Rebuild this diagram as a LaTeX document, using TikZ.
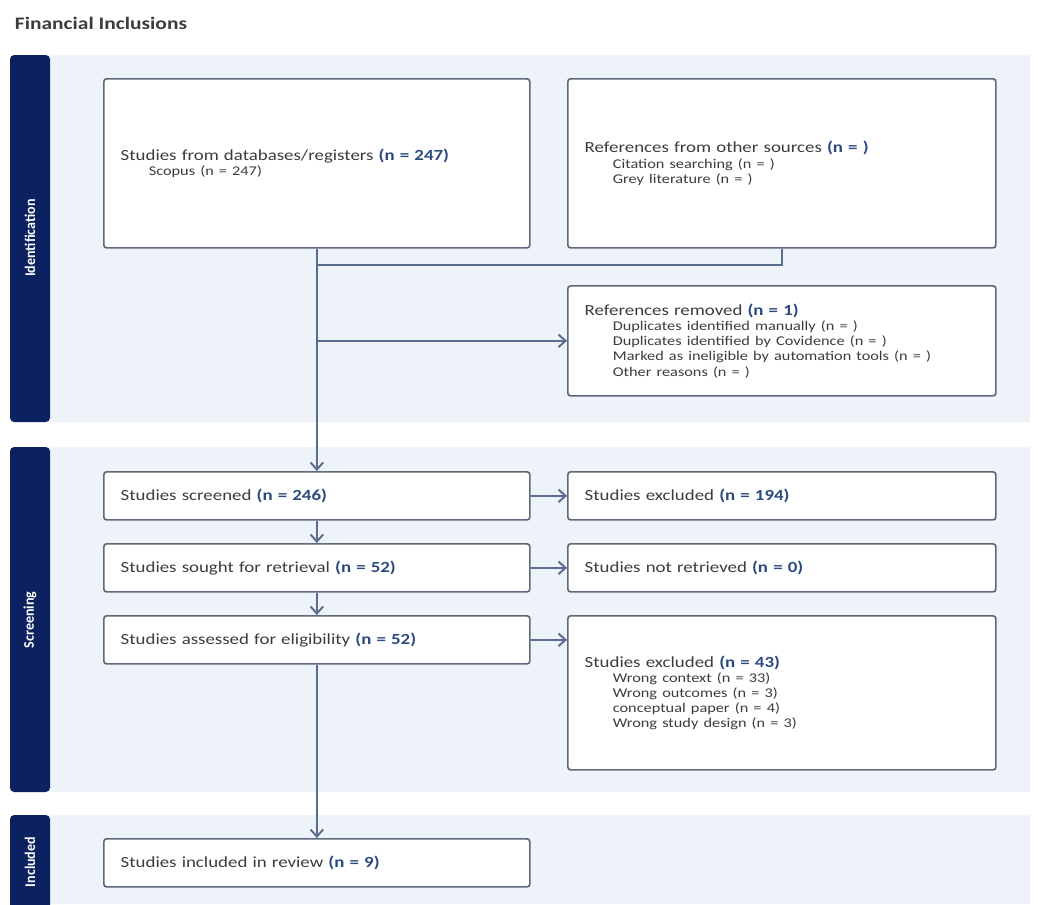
\documentclass[tikz,border=0pt]{standalone}
\usepackage{fontspec}
\setmainfont{Carlito}[FakeStretch=1.22]
\newfontfamily\bandfont{Carlito}[FakeStretch=0.95]
\usetikzlibrary{arrows.meta}
\definecolor{bandnavy}{HTML}{0C2160}
\definecolor{bandbg}{HTML}{EEF3FA}
\definecolor{boxline}{HTML}{5E6A7C}
\definecolor{flowline}{HTML}{5A6D8E}
\definecolor{numblue}{HTML}{2A4A80}
\definecolor{textgray}{HTML}{3C3C3C}
\newcommand{\px}{0.025cm}
\newcommand{\nval}[1]{\textbf{\color{numblue}(n = #1)}}
\newcommand{\subline}[1]{{\fontsize{9.5}{10.8}\selectfont\hspace*{20pt}#1}}
\begin{document}
\begin{tikzpicture}[x=0.025cm,y=-0.025cm]
    \tikzstyle{band} = [fill=bandbg]
    \tikzstyle{bandbar} = [fill=bandnavy,rounded corners=3pt]
    \tikzstyle{bandlabel} = [text=white,rotate=90,font=\bandfont\bfseries\fontsize{10.5}{11}\selectfont]
    \tikzstyle{flowbox} = [draw=boxline,line width=1.2pt,rounded corners=2pt,fill=white,anchor=north west,
        align=left,inner xsep=12pt,inner ysep=0pt,text=textgray,font=\fontsize{11}{10.8}\selectfont]
    \tikzstyle{flow} = [draw=flowline,line width=1.4pt]
    \tikzstyle{flowarrow} = [flow,-{Straight Barb[length=5pt,width=9pt,line width=1.4pt]}]

    \useasboundingbox (0,0) rectangle (1038,904);

    % title
    \node[anchor=west,text=textgray,font=\bfseries\fontsize{12.5}{13}\selectfont] (title) at (10,23) {Financial Inclusions};

    % bands
    \fill[band] (50,55) rectangle (1030,422);
    \fill[band] (50,447) rectangle (1030,792);
    \fill[band] (50,815) rectangle (1030,904);
    \fill[bandbar] (10,55) rectangle (50,422);
    \fill[bandbar] (10,447) rectangle (50,792);
    \fill[bandbar] (10,815) rectangle (50,910);
    \node[bandlabel] (identlabel) at (30,238) {Identification};
    \node[bandlabel] (screenlabel) at (30,620) {Screening};
    \node[bandlabel] (includelabel) at (30,862) {Included};

    % identification
    \node[flowbox,minimum width=426*\px,minimum height=169*\px,text width=426*\px-24pt] (dbs) at (103,78)
        {Studies from databases/registers \nval{247}\\ \subline{Scopus (n = 247)}};
    \node[flowbox,minimum width=428*\px,minimum height=169*\px,text width=428*\px-24pt] (others) at (567,78)
        {References from other sources \nval{}\\ \subline{Citation searching (n = )}\\ \subline{Grey literature (n = )}};
    \node[flowbox,minimum width=428*\px,minimum height=110*\px,text width=428*\px-24pt] (removed) at (567,285)
        {References removed \nval{1}\\ \subline{Duplicates identified manually (n = )}\\
         \subline{Duplicates identified by Covidence (n = )}\\
         \subline{Marked as ineligible by automation tools (n = )}\\ \subline{Other reasons (n = )}};

    % screening
    \node[flowbox,minimum width=426*\px,minimum height=48*\px,text width=426*\px-24pt] (screened) at (103,471)
        {Studies screened \nval{246}};
    \node[flowbox,minimum width=428*\px,minimum height=48*\px,text width=428*\px-24pt] (excluded) at (567,471)
        {Studies excluded \nval{194}};
    \node[flowbox,minimum width=426*\px,minimum height=48*\px,text width=426*\px-24pt] (sought) at (103,543)
        {Studies sought for retrieval \nval{52}};
    \node[flowbox,minimum width=428*\px,minimum height=48*\px,text width=428*\px-24pt] (notretrieved) at (567,543)
        {Studies not retrieved \nval{0}};
    \node[flowbox,minimum width=426*\px,minimum height=48*\px,text width=426*\px-24pt] (assessed) at (103,615)
        {Studies assessed for eligibility \nval{52}};
    \node[flowbox,minimum width=428*\px,minimum height=154*\px,text width=428*\px-24pt] (excludedfull) at (567,615)
        {Studies excluded \nval{43}\\ \subline{Wrong context (n = 33)}\\ \subline{Wrong outcomes (n = 3)}\\
         \subline{conceptual paper (n = 4)}\\ \subline{Wrong study design (n = 3)}};

    % included
    \node[flowbox,minimum width=426*\px,minimum height=48*\px,text width=426*\px-24pt] (included) at (103,838)
        {Studies included in review \nval{9}};

    % connectors
    \coordinate (merge) at (dbs.south |- 0,265);
    \draw[flow] (others.south) |- (merge);
    \draw[flowarrow] (dbs.south) -- (screened.north);
    \draw[flowarrow] (dbs.south |- removed.west) -- (removed.west);
    \draw[flowarrow] (screened.east) -- (excluded.west);
    \draw[flowarrow] (sought.east) -- (notretrieved.west);
    \draw[flowarrow] (assessed.east) -- (assessed.east -| excludedfull.west);
    \draw[flowarrow] (screened.south) -- (sought.north);
    \draw[flowarrow] (sought.south) -- (assessed.north);
    \draw[flowarrow] (assessed.south) -- (included.north);
\end{tikzpicture}
\end{document}
